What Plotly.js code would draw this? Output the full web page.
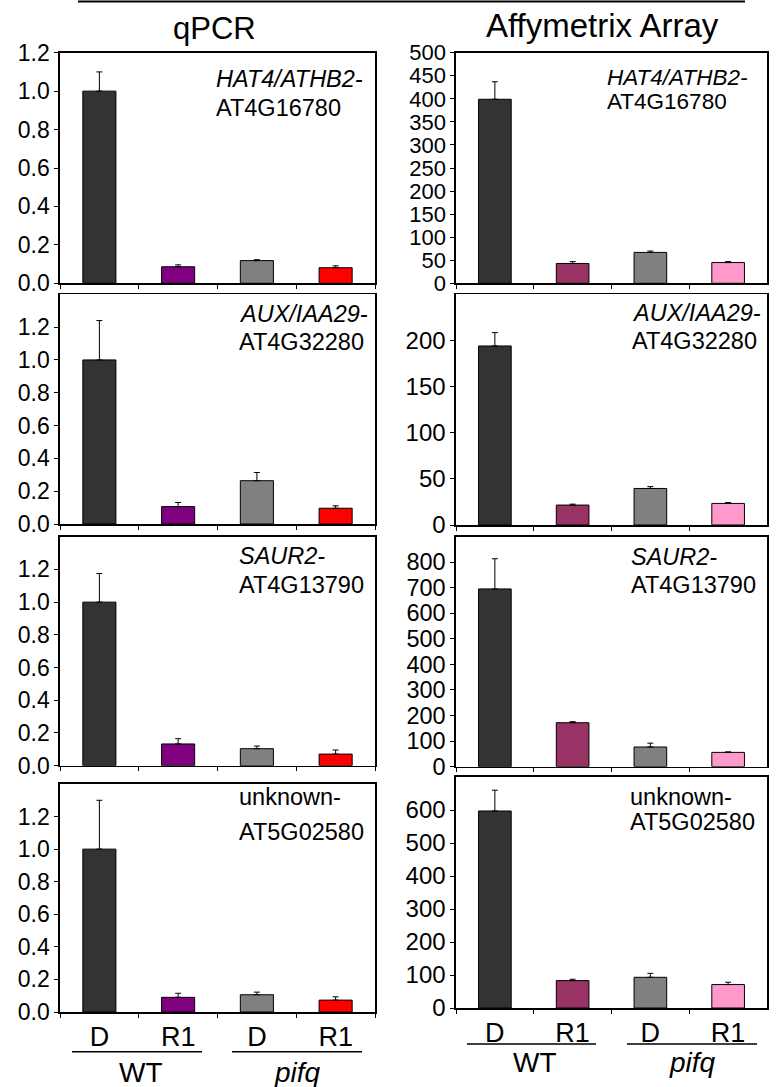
<!DOCTYPE html>
<html>
<head>
<meta charset="utf-8">
<script src="https://cdn.plot.ly/plotly-3.0.1.min.js"></script>
<style>html,body{margin:0;padding:0;background:#fff;}#chart{width:777px;height:1087px;}</style>
</head>
<body>
<div id="chart"></div>
<script>
// ---- data ----
const categories = ["WT D", "WT R1", "pifq D", "pifq R1"];
const tickLabels = ["D", "R1", "D", "R1"];
const groupLabels = ["WT", "pifq"];
const columnTitles = ["qPCR", "Affymetrix Array"];
const geneNames = ["HAT4/ATHB2-", "AUX/IAA29-", "SAUR2-", "unknown-"];
const geneNameItalic = [true, true, true, false];
const geneIds = ["AT4G16780", "AT4G32280", "AT4G13790", "AT5G02580"];

const qpcrHAT4 = [1.0, 0.086, 0.118, 0.081];
const qpcrHAT4Err = [0.10, 0.010, 0.005, 0.010];
const qpcrAUX = [1.0, 0.106, 0.264, 0.096];
const qpcrAUXErr = [0.24, 0.025, 0.050, 0.015];
const qpcrSAUR = [1.0, 0.133, 0.104, 0.071];
const qpcrSAURErr = [0.175, 0.032, 0.016, 0.025];
const qpcrUnknown = [1.0, 0.090, 0.106, 0.073];
const qpcrUnknownErr = [0.30, 0.025, 0.016, 0.020];

const arrayHAT4 = [399, 43, 67, 45];
const arrayHAT4Err = [38, 4, 3, 2];
const arrayAUX = [194, 21.6, 39.6, 23.4];
const arrayAUXErr = [14.5, 1, 2, 1];
const arraySAUR = [695, 172, 77, 56];
const arraySAURErr = [118, 4, 15, 2];
const arrayUnknown = [597, 83, 93, 71];
const arrayUnknownErr = [63, 4, 12, 7];

const qpcrColors = ["#333333", "#800080", "#808080", "#FF0000"];
const arrayColors = ["#333333", "#993366", "#808080", "#FF99CC"];

const qpcrTicks = [0, 0.2, 0.4, 0.6, 0.8, 1.0, 1.2];
const qpcrRanges = [[0, 1.2], [0, 1.4], [0, 1.4], [0, 1.4]];
const arrayTicks = [
  [0, 50, 100, 150, 200, 250, 300, 350, 400, 450, 500],
  [0, 50, 100, 150, 200],
  [0, 100, 200, 300, 400, 500, 600, 700, 800],
  [0, 100, 200, 300, 400, 500, 600]
];
const arrayRanges = [[0, 500], [0, 250], [0, 900], [0, 700]];

// ---- layout helpers ----
const W = 777, H = 1087;
const FONT = "Liberation Sans, Arial, Helvetica, sans-serif";
const px = v => v / W;
const py = v => 1 - v / H;
const dom = (top, bottom) => [1 - bottom / H, 1 - top / H];

const leftX = [px(60), px(375)];
const rightX = [px(456), px(767)];
const leftY = [[52.7, 283.3], [294.3, 524], [536.7, 765.7], [784, 1012]];
const rightY = [[52.7, 283.3], [294.3, 525], [536.5, 766.7], [777, 1008]];
const rightTickFont = [22, 24, 23.5, 24];

const qpcrVals = [qpcrHAT4, qpcrAUX, qpcrSAUR, qpcrUnknown];
const qpcrErrs = [qpcrHAT4Err, qpcrAUXErr, qpcrSAURErr, qpcrUnknownErr];
const arrayVals = [arrayHAT4, arrayAUX, arraySAUR, arrayUnknown];
const arrayErrs = [arrayHAT4Err, arrayAUXErr, arraySAURErr, arrayUnknownErr];

const traces = [];
const layout = {
  width: W, height: H,
  margin: {l: 0, r: 0, t: 0, b: 0},
  paper_bgcolor: "#fff", plot_bgcolor: "#fff",
  showlegend: false,
  bargap: 0.58,
  font: {family: FONT, color: "#000", size: 22},
  annotations: [], shapes: []
};

function addPanel(idx, xs, ys, colors, xdom, ydom, yrange, ytickvals, fmt, isBottom, tickFont) {
  const n = idx + 1;
  const xa = n === 1 ? "x" : "x" + n;
  const ya = n === 1 ? "y" : "y" + n;
  traces.push({
    type: "bar", x: categories, y: xs, xaxis: xa, yaxis: ya,
    marker: {color: colors, line: {color: "#000", width: 1}},
    error_y: {type: "data", array: ys, arrayminus: ys.map(() => 0), symmetric: false,
              color: "#000", thickness: 1, width: 3},
    hoverinfo: "none"
  });
  const xkey = n === 1 ? "xaxis" : "xaxis" + n;
  const ykey = n === 1 ? "yaxis" : "yaxis" + n;
  layout[xkey] = {
    domain: xdom, anchor: ya, type: "category",
    categoryorder: "array", categoryarray: categories,
    tickmode: "array", tickvals: categories, ticktext: tickLabels,
    tickson: "boundaries", ticks: "outside", ticklen: 4, tickwidth: 1, tickcolor: "#000",
    showline: true, linecolor: "#000", linewidth: 1.6, mirror: true,
    showgrid: false, zeroline: false, fixedrange: true,
    showticklabels: isBottom, tickfont: {family: FONT, size: 27, color: "#000"}
  };
  layout[ykey] = {
    domain: ydom, anchor: xa, range: yrange,
    tickmode: "array", tickvals: ytickvals,
    ticktext: ytickvals.map(v => fmt(v)),
    ticks: "outside", ticklen: 4, tickwidth: 1, tickcolor: "#000",
    showline: true, linecolor: "#000", linewidth: 1.6, mirror: true,
    showgrid: false, zeroline: false, fixedrange: true,
    tickfont: {family: FONT, size: tickFont, color: "#000"}
  };
}

for (let i = 0; i < 4; i++) {
  addPanel(i, qpcrVals[i], qpcrErrs[i], qpcrColors, leftX, dom(leftY[i][0], leftY[i][1]),
           qpcrRanges[i], qpcrTicks, v => v.toFixed(1), i === 3, 23);
  addPanel(i + 4, arrayVals[i], arrayErrs[i], arrayColors, rightX, dom(rightY[i][0], rightY[i][1]),
           arrayRanges[i], arrayTicks[i], v => String(v), i === 3, rightTickFont[i]);
}

// gene label positions (pixel): [x, yLine1, yLine2, fontSize]
const leftGenePos = [[215, 79, 108, 23.5], [238, 314, 342, 23.5], [238, 556, 585, 23.5], [238, 797, 832, 23.5]];
const rightGenePos = [[606, 77.5, 101.5, 22.5], [631, 313, 341, 23.5], [630, 557, 585, 23.5], [629, 797, 822, 23.5]];
function geneAnn(pos, i) {
  const t1 = geneNameItalic[i] ? "<i>" + geneNames[i] + "</i>" : geneNames[i];
  layout.annotations.push({xref: "paper", yref: "paper", x: px(pos[0]), y: py(pos[1]),
    xanchor: "left", yanchor: "middle", text: t1, showarrow: false,
    font: {family: FONT, size: pos[3], color: "#000"}, borderpad: 0});
  layout.annotations.push({xref: "paper", yref: "paper", x: px(pos[0]), y: py(pos[2]),
    xanchor: "left", yanchor: "middle", text: geneIds[i], showarrow: false,
    font: {family: FONT, size: pos[3], color: "#000"}, borderpad: 0});
}
for (let i = 0; i < 4; i++) { geneAnn(leftGenePos[i], i); geneAnn(rightGenePos[i], i); }

// column titles
layout.annotations.push({xref: "paper", yref: "paper", x: px(214), y: py(28), xanchor: "center", yanchor: "middle",
  text: columnTitles[0], showarrow: false, font: {family: FONT, size: 31, color: "#000"}, borderpad: 0});
layout.annotations.push({xref: "paper", yref: "paper", x: px(602.5), y: py(26), xanchor: "center", yanchor: "middle",
  text: columnTitles[1], showarrow: false, font: {family: FONT, size: 33, color: "#000"}, borderpad: 0});

// group labels
const groupPos = [[140.7, 1072.5], [297, 1072.5], [535, 1062.5], [692, 1062.5]];
groupPos.forEach((p, k) => {
  const g = groupLabels[k % 2];
  layout.annotations.push({xref: "paper", yref: "paper", x: px(p[0]), y: py(p[1]), xanchor: "center", yanchor: "middle",
    text: g === "pifq" ? "<i>" + g + "</i>" : g, showarrow: false,
    font: {family: FONT, size: 28, color: "#000"}, borderpad: 0});
});

// rules
const rules = [[78, 745, 1.5, 2], [72, 202, 1051.7, 1.6], [232, 362, 1051.7, 1.6], [467, 596, 1044, 1.6], [627, 757, 1044, 1.6]];
rules.forEach(r => layout.shapes.push({type: "line", xref: "paper", yref: "paper",
  x0: px(r[0]), x1: px(r[1]), y0: py(r[2]), y1: py(r[2]), line: {color: "#000", width: r[3]}}));

Plotly.newPlot("chart", traces, layout, {staticPlot: true, displayModeBar: false});
</script>
</body>
</html>
